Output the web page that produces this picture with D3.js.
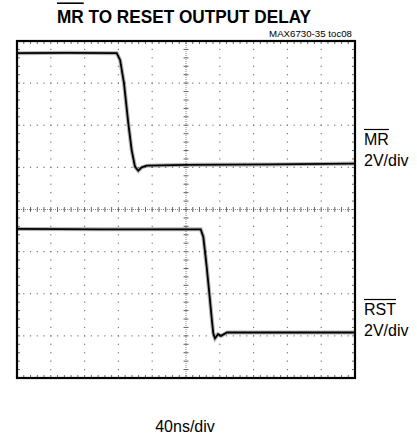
<!DOCTYPE html>
<html>
<head>
<meta charset="utf-8">
<script src="https://cdn.jsdelivr.net/npm/d3@7"></script>
<style>
  body { margin: 0; background: #fff; }
  svg text { font-family: "Liberation Sans", Arial, sans-serif; fill: #000; }
</style>
</head>
<body>
<svg id="scope" width="417" height="444"></svg>
<script>
// time in ns (40ns/div, 10 div), level in screen divisions from centre (8 div)
var mrTime  = [0, 60, 118, 122, 126.6, 131.7, 135.7, 139.6, 143.5, 147.6, 153.5, 200, 300, 400];
var mrLevel = [3.71, 3.72, 3.71, 3.55, 3.0, 2.05, 1.41, 1.02, 0.92, 1.0, 1.04, 1.06, 1.07, 1.09];

var rstTime  = [0, 100, 217.4, 220.5, 224.5, 227.6, 230.4, 232.3, 234.3, 237.9, 241.4, 248.5, 320, 400];
var rstLevel = [-0.46, -0.47, -0.47, -0.65, -1.36, -1.99, -2.58, -2.94, -3.06, -2.96, -3.0, -2.92, -2.92, -2.92];

var xDivs = 10, yDivs = 8, minorPerDiv = 5;

var svg = d3.select("#scope");
var plotLeft = 17, plotRight = 355, plotTop = 41, plotBottom = 378;

var x = d3.scaleLinear().domain([0, 400]).range([plotLeft, plotRight]);
var y = d3.scaleLinear().domain([-4, 4]).range([plotBottom, plotTop]);

var grid = svg.append("g");

// dotted graticule lines
d3.range(1, xDivs).forEach(function(i){
    if (i == 5) return;
    d3.range(0, yDivs * minorPerDiv + 1).forEach(function(j){
        grid.append("rect")
            .attr("x", x(i * 40) - 0.6).attr("y", y(-4 + j / minorPerDiv) - 0.6)
            .attr("width", 1.2).attr("height", 1.2).attr("fill", "#777");
    });
});
d3.range(1, yDivs).forEach(function(i){
    if (i == 4) return;
    d3.range(0, xDivs * minorPerDiv + 1).forEach(function(j){
        grid.append("rect")
            .attr("x", x(j * 40 / minorPerDiv) - 0.6).attr("y", y(-4 + i) - 0.6)
            .attr("width", 1.2).attr("height", 1.2).attr("fill", "#777");
    });
});

// centre axes with minor ticks
grid.append("line")
    .attr("x1", x(0)).attr("x2", x(400)).attr("y1", y(0)).attr("y2", y(0))
    .attr("stroke", "#888").attr("stroke-width", 1).attr("stroke-dasharray", "1,1");
grid.append("line")
    .attr("x1", x(200)).attr("x2", x(200)).attr("y1", y(-4)).attr("y2", y(4))
    .attr("stroke", "#888").attr("stroke-width", 1).attr("stroke-dasharray", "1,1");

d3.range(0, xDivs * minorPerDiv + 1).forEach(function(j){
    var xx = x(j * 40 / minorPerDiv);
    grid.append("line").attr("x1", xx).attr("x2", xx)
        .attr("y1", y(0) - 2.5).attr("y2", y(0) + 2.5)
        .attr("stroke", "#666").attr("stroke-width", 1);
    // frame ticks top / bottom
    grid.append("line").attr("x1", xx).attr("x2", xx)
        .attr("y1", plotTop).attr("y2", plotTop + 3).attr("stroke", "#666");
    grid.append("line").attr("x1", xx).attr("x2", xx)
        .attr("y1", plotBottom).attr("y2", plotBottom - 3).attr("stroke", "#666");
});
d3.range(0, yDivs * minorPerDiv + 1).forEach(function(j){
    var yy = y(-4 + j / minorPerDiv);
    grid.append("line").attr("x1", x(200) - 2.5).attr("x2", x(200) + 2.5)
        .attr("y1", yy).attr("y2", yy)
        .attr("stroke", "#666").attr("stroke-width", 1);
    grid.append("line").attr("x1", plotLeft).attr("x2", plotLeft + 3)
        .attr("y1", yy).attr("y2", yy).attr("stroke", "#666");
    grid.append("line").attr("x1", plotRight).attr("x2", plotRight - 3)
        .attr("y1", yy).attr("y2", yy).attr("stroke", "#666");
});

// traces
var line = d3.line()
    .x(function(d){ return x(d[0]); })
    .y(function(d){ return y(d[1]); });

[[mrTime, mrLevel], [rstTime, rstLevel]].forEach(function(tr){
    var pts = tr[0].map(function(t, i){ return [t, tr[1][i]]; });
    svg.append("path").attr("d", line(pts))
        .attr("fill", "none").attr("stroke", "#000").attr("stroke-opacity", 0.3)
        .attr("stroke-width", 4);
    svg.append("path").attr("d", line(pts))
        .attr("fill", "none").attr("stroke", "#000").attr("stroke-width", 1.8);
});

// frame
svg.append("rect")
    .attr("x", plotLeft).attr("y", plotTop)
    .attr("width", plotRight - plotLeft).attr("height", plotBottom - plotTop)
    .attr("fill", "none").attr("stroke", "#000").attr("stroke-width", 2.2);

// title with overbar on MR
var tg = svg.append("g").attr("transform", "translate(184,23) scale(0.905,1)");
var title = tg.append("text")
    .attr("text-anchor", "middle")
    .style("font-size", "19px").style("font-weight", "bold")
    .text("MR TO RESET OUTPUT DELAY");
var tw = title.node().getComputedTextLength();
var mrw = title.node().getSubStringLength(0, 2);
tg.append("line").attr("x1", -tw / 2).attr("x2", -tw / 2 + mrw)
    .attr("y1", -19.8).attr("y2", -19.8).attr("stroke", "#000").attr("stroke-width", 1.6);

svg.append("text").attr("x", 352).attr("y", 36.7).attr("text-anchor", "end")
    .style("font-size", "9.7px").text("MAX6730-35 toc08");

function channelLabel(name, yBase){
    var t = svg.append("text").attr("x", 364).attr("y", yBase)
        .style("font-size", "16px").text(name);
    var w = t.node().getComputedTextLength();
    svg.append("line").attr("x1", 364).attr("x2", 364 + w)
        .attr("y1", yBase - 15.5).attr("y2", yBase - 15.5)
        .attr("stroke", "#000").attr("stroke-width", 1.2);
    svg.append("text").attr("x", 364).attr("y", yBase + 20.5)
        .style("font-size", "16px").text("2V/div");
}
channelLabel("MR", 145);
channelLabel("RST", 315);

svg.append("text").attr("x", 185).attr("y", 432).attr("text-anchor", "middle")
    .style("font-size", "16px").text("40ns/div");
</script>
</body>
</html>
